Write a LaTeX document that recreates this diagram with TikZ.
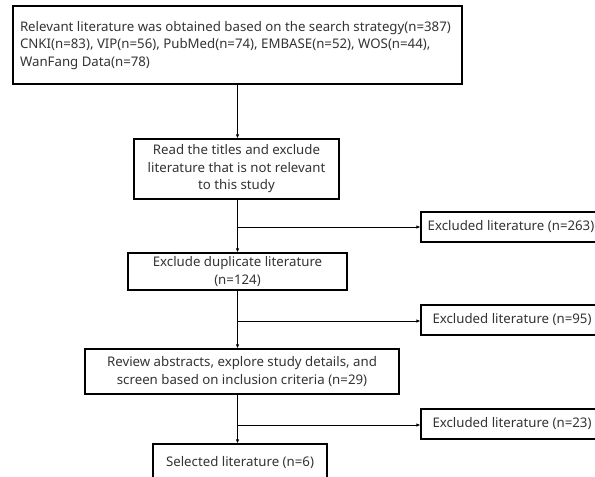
\documentclass[tikz,border=0pt]{standalone}
\usepackage{fontspec}
\setmainfont{Noto Sans}
\usetikzlibrary{arrows.meta}
\begin{document}
\begin{tikzpicture}[x=1pt,y=-1pt,
  box/.style={draw=black, line width=1.2pt, inner sep=0pt, font=\fontsize{13.25}{17.5}\selectfont, text=black!80, align=center},
  arr/.style={line width=0.9pt, -{Latex[length=4pt,width=3.5pt]}},
  ln/.style={line width=0.9pt}]
\useasboundingbox (0,0) rectangle (595,477);
\begin{scope}
\clip (0,0) rectangle (595,477);
\node[box, minimum width=449pt, minimum height=78pt] (b1) at (237.5,45)
  {\makebox[435pt][l]{\begin{tabular}{@{}l@{}}Relevant literature was obtained based on the search strategy(n=387)\\CNKI(n=83), VIP(n=56), PubMed(n=74), EMBASE(n=52), WOS(n=44),\\WanFang Data(n=78)\end{tabular}}};
\node[box, minimum width=205pt, minimum height=60pt] (b2) at (236.5,169)
  {Read the titles and exclude\\literature that is not relevant\\to this study};
\node[box, minimum width=219pt, minimum height=37pt] (b3) at (237.5,271.5)
  {Exclude duplicate literature\\(n=124)};
\node[box, minimum width=314pt, minimum height=45pt] (b4) at (242,371.5)
  {Review abstracts, explore study details, and\\screen based on inclusion criteria (n=29)};
\node[box, minimum width=174pt, minimum height=38pt] (b5) at (240,463)
  {Selected literature (n=6)};
\node[box, minimum width=180pt, minimum height=30pt] (e1) at (511,227)
  {Excluded literature (n=263)};
\node[box, minimum width=182pt, minimum height=30pt] (e2) at (512,320)
  {Excluded literature (n=95)};
\node[box, minimum width=182pt, minimum height=30pt] (e3) at (512,424)
  {Excluded literature (n=23)};
\coordinate (sp) at (237.5,0);
\coordinate (j1) at (237.5,227);
\coordinate (j2) at (237.5,321);
\coordinate (j3) at (237.5,425);
\draw[arr] (b1.south -| sp) -- (b2.north -| sp);
\draw[arr] (b2.south -| sp) -- (b3.north -| sp);
\draw[arr] (b3.south -| sp) -- (b4.north -| sp);
\draw[arr] (b4.south -| sp) -- (b5.north -| sp);
\draw[arr] (j1) -- (e1.west |- j1);
\draw[arr] (j2) -- (e2.west |- j2);
\draw[arr] (j3) -- (e3.west |- j3);
\end{scope}
\end{tikzpicture}
\end{document}
